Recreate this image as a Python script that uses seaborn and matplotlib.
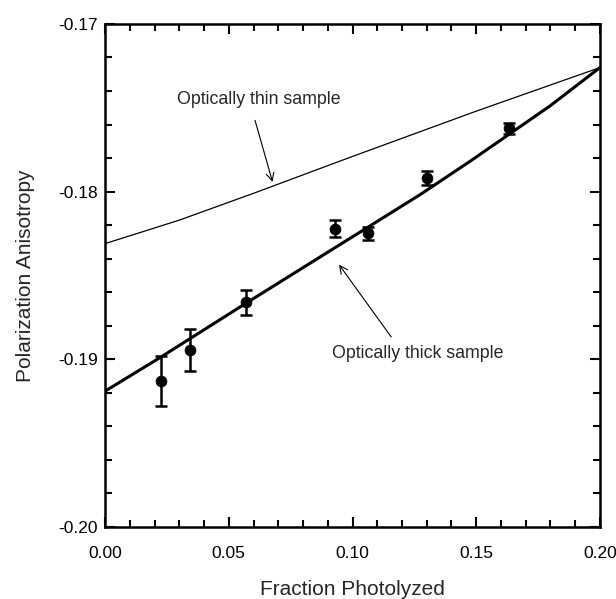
import numpy as np
import pandas as pd
import matplotlib
matplotlib.use("Agg")
import matplotlib.pyplot as plt
import seaborn as sns
from matplotlib.ticker import MultipleLocator, FormatStrFormatter

# --- data ---
frac = [0.0225, 0.0343, 0.0568, 0.0929, 0.1061, 0.1300, 0.1634]
aniso = [-0.1913, -0.18946, -0.18661, -0.18222, -0.18248, -0.17919, -0.17623]
err = [0.0015, 0.00125, 0.00075, 0.0005, 0.0004, 0.00042, 0.00034]

thick_x = [0.0, 0.0222, 0.0568, 0.0949, 0.1057, 0.1273, 0.1475, 0.1798, 0.2]
thick_y = [-0.1919, -0.1899, -0.18667, -0.18316, -0.18217, -0.18018, -0.17819, -0.17489, -0.1726]

thin_x = [0.0, 0.03, 0.06, 0.10, 0.15, 0.2]
thin_y = [-0.1831, -0.1817, -0.1801, -0.1779, -0.1752, -0.1726]

sns.set_style("ticks")
plt.rcParams['font.family'] = ['Liberation Sans', 'DejaVu Sans']
plt.rcParams['axes.unicode_minus'] = False

fig = plt.figure(figsize=(6.16, 5.99), dpi=100)
ax = fig.add_axes([0.1705, 0.1202, 0.8035, 0.8398])

pts = pd.DataFrame({"x": frac, "y": aniso})
thick = pd.DataFrame({"x": thick_x, "y": thick_y})
thin = pd.DataFrame({"x": thin_x, "y": thin_y})

sns.lineplot(data=thin, x="x", y="y", ax=ax, color="black", linewidth=0.9, sort=True)
sns.lineplot(data=thick, x="x", y="y", ax=ax, color="black", linewidth=2.2, sort=True)
ax.errorbar(frac, aniso, yerr=err, fmt="none", ecolor="black", elinewidth=1.8,
            capsize=4, capthick=1.8, zorder=3)
sns.scatterplot(data=pts, x="x", y="y", ax=ax, color="black", s=60, edgecolor="black",
                zorder=4)

ax.set_xlim(0, 0.2)
ax.set_ylim(-0.20, -0.17)
ax.xaxis.set_major_locator(MultipleLocator(0.05))
ax.xaxis.set_minor_locator(MultipleLocator(0.01))
ax.yaxis.set_major_locator(MultipleLocator(0.01))
ax.yaxis.set_minor_locator(MultipleLocator(0.002))
ax.xaxis.set_major_formatter(FormatStrFormatter("%.2f"))
ax.yaxis.set_major_formatter(FormatStrFormatter("%.2f"))
ax.tick_params(which="both", direction="in", top=True, right=True, width=1.5,
               labelsize=12.5, colors="black")
ax.tick_params(which="major", length=7)
ax.tick_params(which="minor", length=5)
ax.tick_params(axis="x", which="major", pad=14)
ax.tick_params(axis="y", which="major", pad=5)
for s in ax.spines.values():
    s.set_linewidth(1.8)
    s.set_color("black")

ax.set_xlabel("Fraction Photolyzed", fontsize=15, labelpad=13)
ax.set_ylabel("Polarization Anisotropy", fontsize=15, labelpad=17)

ax.text(0.0290, -0.17448, "Optically thin sample", fontsize=12.8, va="center", ha="left")
ax.annotate("", xy=(0.068, -0.17958), xytext=(0.0603, -0.17559),
            arrowprops=dict(arrowstyle="->", color="black", lw=0.8, mutation_scale=14))
ax.text(0.0917, -0.18967, "Optically thick sample", fontsize=12.8, va="center", ha="left")
ax.annotate("", xy=(0.0939, -0.18422), xytext=(0.1163, -0.1888),
            arrowprops=dict(arrowstyle="->", color="black", lw=0.8, mutation_scale=14))

fig.savefig("out.png", dpi=100)
